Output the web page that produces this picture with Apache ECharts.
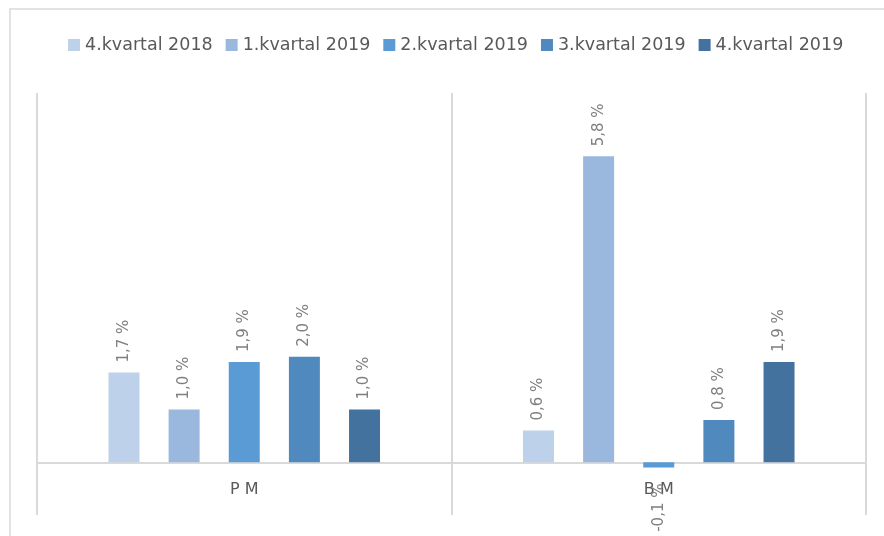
<!DOCTYPE html>
<html>
<head>
<meta charset="utf-8">
<script src="https://cdn.jsdelivr.net/npm/echarts@6/dist/echarts.min.js"></script>
<style>
  html, body { margin: 0; padding: 0; background: #fff; }
  #main { width: 884px; height: 536px; }
</style>
</head>
<body>
<div id="main"></div>
<script>
const categories = ["P M", "B M"];
const seriesNames = ["4.kvartal 2018", "1.kvartal 2019", "2.kvartal 2019", "3.kvartal 2019", "4.kvartal 2019"];
const q4_2018 = [1.7, 0.6];
const q1_2019 = [1.0, 5.8];
const q2_2019 = [1.9, -0.1];
const q3_2019 = [2.0, 0.8];
const q4_2019 = [1.0, 1.9];
const colors = ["#bdd1ea", "#9ab8de", "#5b9bd5", "#4f89bd", "#43729e"];

const yMin = -1, yMax = 7;
const gridTop = 93, gridBottom = 21;

const chart = echarts.init(document.getElementById("main"));

function fmt(p) {
  return p.value.toFixed(1).replace(".", ",") + " %";
}

function makeSeries(name, values, color) {
  return {
    name: name,
    type: "bar",
    barWidth: 31,
    barGap: "94%",
    itemStyle: { color: color },
    data: values.map(function (v) {
      const item = { value: v };
      if (v < 0) {
        item.label = { position: "bottom", align: "right", distance: 16 };
      }
      return item;
    }),
    label: {
      show: true,
      position: "top",
      rotate: 90,
      align: "left",
      verticalAlign: "middle",
      distance: 10,
      color: "#7f7f7f",
      fontSize: 15,
      fontFamily: "DejaVu Sans",
      formatter: fmt
    }
  };
}

const allValues = [q4_2018, q1_2019, q2_2019, q3_2019, q4_2019];

// shift the category axis up so it sits on the zero line
const plotH = 536 - gridTop - gridBottom;
const zeroOffset = -plotH * (0 - yMin) / (yMax - yMin);

chart.setOption({
  animation: false,
  color: colors,
  graphic: [{
    type: "rect",
    shape: { x: 10, y: 9, width: 890, height: 540 },
    style: { fill: "none", stroke: "#d9d9d9", lineWidth: 1.5 },
    z: -1
  }],
  legend: {
    top: 31,
    left: 63,
    itemWidth: 12,
    itemHeight: 12,
    itemGap: 13,
    icon: "rect",
    textStyle: { color: "#595959", fontSize: 17.5, fontFamily: "DejaVu Sans" },
    data: seriesNames
  },
  grid: { left: 37, right: 18, top: gridTop, bottom: gridBottom, outerBoundsMode: "none" },
  xAxis: {
    type: "category",
    data: categories,
    offset: zeroOffset,
    axisLine: { onZero: false, lineStyle: { color: "#d9d9d9", width: 2 } },
    axisTick: { show: false },
    splitLine: { show: true, lineStyle: { color: "#d9d9d9", width: 2 } },
    axisLabel: { color: "#595959", fontSize: 16, fontFamily: "DejaVu Sans", margin: 20 }
  },
  yAxis: {
    type: "value",
    min: yMin,
    max: yMax,
    show: false,
    splitLine: { show: false }
  },
  series: seriesNames.map(function (n, i) { return makeSeries(n, allValues[i], colors[i]); })
});
</script>
</body>
</html>
